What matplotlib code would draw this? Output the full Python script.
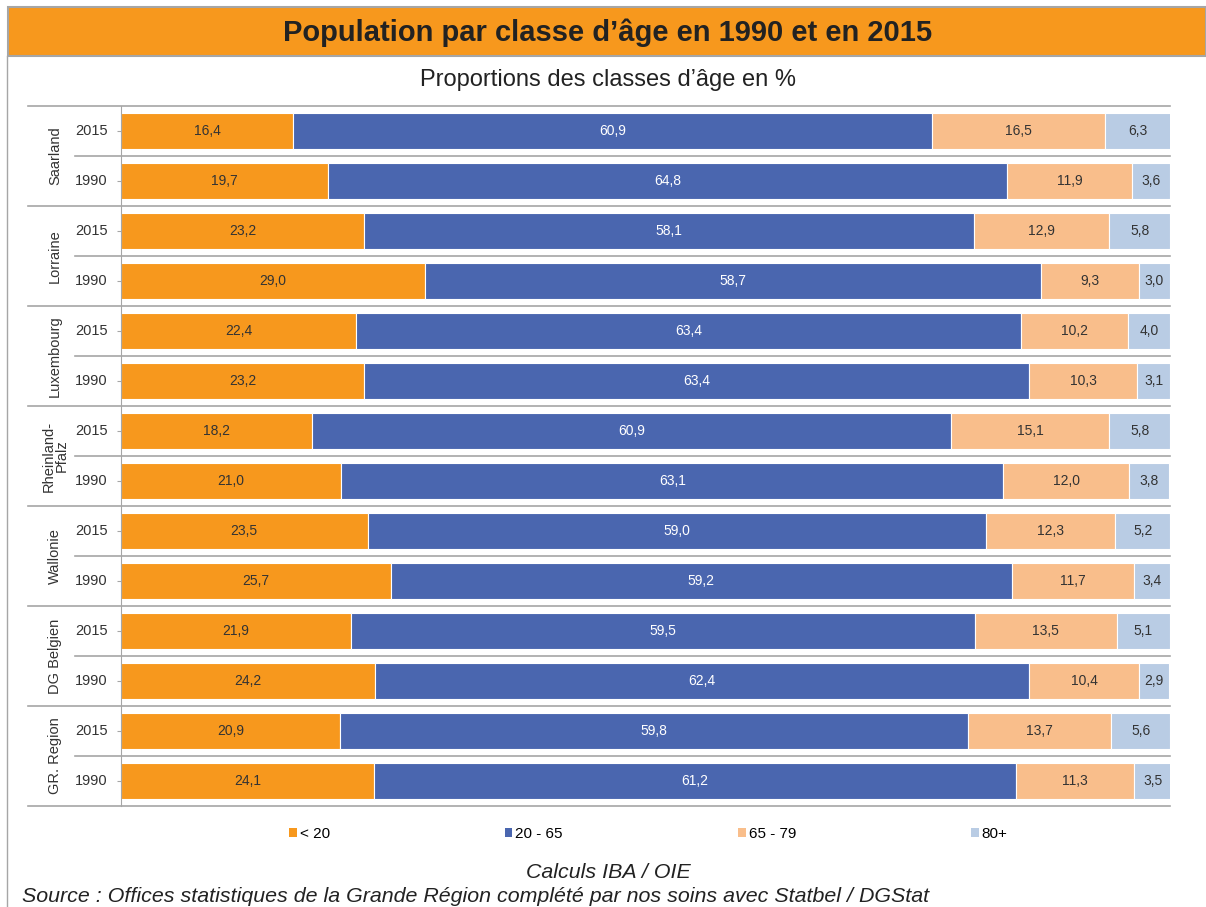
import matplotlib.pyplot as plt
from matplotlib.patches import Patch, Rectangle
from matplotlib.lines import Line2D
import matplotlib.transforms as mtransforms
import numpy as np

plt.rcParams['font.family'] = ['Liberation Sans', 'DejaVu Sans']

regions = ['Saarland', 'Lorraine', 'Luxembourg', 'Rheinland-\nPfalz', 'Wallonie', 'DG Belgien', 'GR. Region']
years = ['2015', '1990']
classes = ['< 20', '20 - 65', '65 - 79', '80+']

# one row per region/year, top to bottom
under_20 = [16.4, 19.7, 23.2, 29.0, 22.4, 23.2, 18.2, 21.0, 23.5, 25.7, 21.9, 24.2, 20.9, 24.1]
age_20_65 = [60.9, 64.8, 58.1, 58.7, 63.4, 63.4, 60.9, 63.1, 59.0, 59.2, 59.5, 62.4, 59.8, 61.2]
age_65_79 = [16.5, 11.9, 12.9, 9.3, 10.2, 10.3, 15.1, 12.0, 12.3, 11.7, 13.5, 10.4, 13.7, 11.3]
age_80 = [6.3, 3.6, 5.8, 3.0, 4.0, 3.1, 5.8, 3.8, 5.2, 3.4, 5.1, 2.9, 5.6, 3.5]

colors = ['#F7981D', '#4A66AF', '#F9BE8B', '#B9CCE4']
text_colors = ['#333333', 'white', '#333333', '#333333']
grid_color = '#A6A6A6'

W, H = 1206, 907
fig = plt.figure(figsize=(W / 100, H / 100), dpi=100)

# title band
fig.patches.append(Rectangle((8 / W, 1 - 56 / H), 1 - 8 / W, 49 / H, transform=fig.transFigure,
                             facecolor='#F7981D', edgecolor='#A6A6A6', linewidth=1.5))
fig.text(608 / W, 1 - 33 / H, 'Population par classe d\u2019âge en 1990 et en 2015', ha='center', va='center',
         fontsize=21, fontweight='bold', color='#222222')
fig.add_artist(Line2D([7 / W, 7 / W], [0, 1 - 56 / H], transform=fig.transFigure, color=grid_color, linewidth=1))
fig.text(608 / W, 1 - 80 / H, 'Proportions des classes d\u2019âge en %', ha='center', va='center',
         fontsize=17, color='#222222')

x0, x1, y0, y1 = 121, 1170, 106, 806
ax = fig.add_axes([x0 / W, 1 - y1 / H, (x1 - x0) / W, (y1 - y0) / H])

series = [under_20, age_20_65, age_65_79, age_80]
n = len(under_20)
pos = np.arange(n)
left = np.zeros(n)
for vals, col, tcol in zip(series, colors, text_colors):
    vals = np.array(vals)
    ax.barh(pos, vals, left=left, height=0.72, color=col, edgecolor='white', linewidth=0.8, zorder=2)
    for p, l, v in zip(pos, left, vals):
        ax.text(l + v / 2, p, f'{v:.1f}'.replace('.', ','), ha='center', va='center',
                fontsize=10, color=tcol, zorder=3)
    left += vals

ax.set_xlim(0, 100)
ax.set_ylim(n - 0.5, -0.5)
ax.set_xticks([])
ax.set_yticks(pos)
ax.set_yticklabels([])
ax.tick_params(axis='y', length=3, color=grid_color)
for s in ['top', 'right', 'bottom']:
    ax.spines[s].set_visible(False)
ax.spines['left'].set_color(grid_color)

# row separators, longer at group boundaries
trans = mtransforms.blended_transform_factory(ax.transAxes, ax.transData)
span = x1 - x0
for b in np.arange(-0.5, n, 1.0):
    group_edge = int(b + 0.5) % 2 == 0
    xs = (28 - x0) / span if group_edge else (75 - x0) / span
    ax.plot([xs, 1], [b, b], transform=trans, color=grid_color, linewidth=1.2, clip_on=False, zorder=1)

for i in range(n):
    ax.text((108 - x0) / span, i, years[i % 2], transform=trans, ha='right', va='center',
            fontsize=10.5, color='#333333')
for g, name in enumerate(regions):
    ax.text((55 - x0) / span, 2 * g + 0.5, name, transform=trans, ha='center', va='center',
            rotation=90, fontsize=10.5, color='#333333', linespacing=0.9)

handles = [Patch(facecolor=c, edgecolor='none') for c in colors]
fig.legend(handles, classes, loc='center left', bbox_to_anchor=(289 / W, 1 - 834 / H), ncol=4,
           frameon=False, fontsize=11, handlelength=0.5, handleheight=0.6, handletextpad=0.2,
           columnspacing=11.45, borderaxespad=0, borderpad=0)

fig.text(608 / W, 1 - 873 / H, 'Calculs IBA / OIE', ha='center', va='center', fontsize=15.4,
         style='italic', color='#222222')
fig.text(22 / W, 1 - 897 / H, 'Source : Offices statistiques de la Grande Région complété par nos soins avec Statbel / DGStat',
         ha='left', va='center', fontsize=15.4, style='italic', color='#222222')

fig.savefig('out.png', dpi=100)
